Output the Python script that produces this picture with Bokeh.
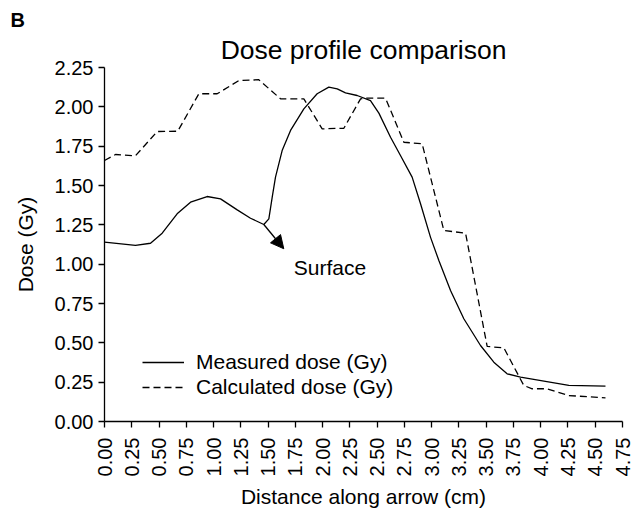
from bokeh.plotting import figure
from bokeh.models import (Range1d, FixedTicker, NumeralTickFormatter, Label, Arrow,
                          NormalHead, Legend, LegendItem, Title)
from bokeh.embed import file_html
from bokeh.resources import INLINE

# ---- data ----
measured_x = [0.00, 0.284, 0.422, 0.529, 0.666, 0.789, 0.941, 1.064, 1.217, 1.339, 1.461,
              1.507, 1.538, 1.568, 1.629, 1.706, 1.828, 1.950, 2.057, 2.134, 2.210, 2.317,
              2.439, 2.516, 2.623, 2.714, 2.821, 2.898, 2.989, 3.066, 3.173, 3.295, 3.448,
              3.570, 3.692, 3.815, 4.258, 4.594]
measured_y = [1.140, 1.119, 1.133, 1.197, 1.320, 1.394, 1.430, 1.415, 1.345, 1.292, 1.252,
              1.288, 1.426, 1.553, 1.722, 1.850, 1.987, 2.083, 2.125, 2.114, 2.089, 2.072,
              2.040, 1.960, 1.807, 1.691, 1.553, 1.384, 1.172, 1.023, 0.833, 0.653, 0.483,
              0.377, 0.303, 0.282, 0.229, 0.225]

calc_x = [0.00, 0.101, 0.284, 0.483, 0.672, 0.865, 1.033, 1.232, 1.415, 1.614, 1.828,
          1.996, 2.195, 2.348, 2.393, 2.577, 2.745, 2.913, 3.112, 3.311, 3.509, 3.662,
          3.845, 3.922, 4.059, 4.258, 4.594]
calc_y = [1.659, 1.697, 1.689, 1.843, 1.845, 2.083, 2.083, 2.167, 2.172, 2.051, 2.051,
          1.860, 1.864, 2.051, 2.055, 2.055, 1.775, 1.765, 1.214, 1.197, 0.477, 0.468,
          0.229, 0.208, 0.208, 0.165, 0.150]

x_ticks = [0.00, 0.25, 0.50, 0.75, 1.00, 1.25, 1.50, 1.75, 2.00, 2.25, 2.50, 2.75,
           3.00, 3.25, 3.50, 3.75, 4.00, 4.25, 4.50, 4.75]
y_ticks = [0.00, 0.25, 0.50, 0.75, 1.00, 1.25, 1.50, 1.75, 2.00, 2.25]

series_labels = ["Measured dose (Gy)", "Calculated dose (Gy)"]
title_text = "Dose profile comparison"
panel_text = "B"
surface_text = "Surface"
arrow_start = (1.461, 1.252)
arrow_end = (1.644, 1.098)

FONT = "Liberation Sans"

p = figure(width=643, height=511, output_backend="svg", toolbar_location=None,
           x_range=Range1d(0, 4.75), y_range=Range1d(0, 2.25),
           min_border_left=104, min_border_right=21, min_border_top=67,
           min_border_bottom=90)
p.outline_line_color = None
p.xgrid.visible = False
p.ygrid.visible = False
p.background_fill_color = "white"
p.border_fill_color = "white"

# axes
for ax in (p.xaxis[0], p.yaxis[0]):
    ax.axis_line_color = "black"
    ax.axis_line_width = 1.3
    ax.major_tick_line_color = "black"
    ax.major_tick_line_width = 1.3
    ax.major_tick_in = 0
    ax.major_tick_out = 6
    ax.minor_tick_line_color = None
    ax.major_label_text_font = FONT
    ax.major_label_text_font_size = "20px"
    ax.major_label_text_color = "black"
    ax.axis_label_text_font = FONT
    ax.axis_label_text_font_size = "21px"
    ax.axis_label_text_font_style = "normal"
    ax.axis_label_text_color = "black"
    ax.formatter = NumeralTickFormatter(format="0.00")

p.xaxis.ticker = FixedTicker(ticks=x_ticks)
p.yaxis.ticker = FixedTicker(ticks=y_ticks)
p.xaxis.major_label_orientation = 3.14159265 / 2
p.xaxis.major_label_standoff = 10
p.xaxis.axis_label = "Distance along arrow (cm)"
p.xaxis.axis_label_standoff = 6
p.yaxis.axis_label = "Dose (Gy)"
p.yaxis.major_label_standoff = 5
p.yaxis.axis_label_standoff = 15

# panel letter (outer) and title (next to the frame)
p.title.text = panel_text
p.title.align = "left"
p.title.offset = -94
p.title.standoff = 0
p.title.text_font = FONT
p.title.text_font_size = "20px"
p.title.text_font_style = "bold"
p.title.text_color = "black"
p.add_layout(Title(text=title_text, align="center", offset=2, standoff=5,
                   text_font=FONT, text_font_size="26.5px", text_font_style="normal",
                   text_color="black"), "above")

# lines
r1 = p.line(measured_x, measured_y, line_color="black", line_width=1.3)
r2 = p.line(calc_x, calc_y, line_color="black", line_width=1.3, line_dash="7 4")

legend = Legend(items=[LegendItem(label=series_labels[0], renderers=[r1]),
                       LegendItem(label=series_labels[1], renderers=[r2])],
                location=(38, 22), border_line_alpha=0, background_fill_alpha=0,
                padding=0, margin=0, spacing=1, glyph_width=42, glyph_height=24,
                label_height=24, label_standoff=12, label_text_font=FONT,
                label_text_font_size="21px", label_text_color="black")
p.add_layout(legend)

# arrow + annotation
p.add_layout(Arrow(end=NormalHead(size=13, fill_color="black", line_color="black"),
                   x_start=arrow_start[0], y_start=arrow_start[1],
                   x_end=arrow_end[0], y_end=arrow_end[1],
                   line_color="black", line_width=1.3))
p.add_layout(Label(x=1.736, y=0.977, text=surface_text, text_font=FONT,
                   text_font_size="21px", text_color="black",
                   text_baseline="alphabetic", text_align="left"))

open("out.html", "w").write(file_html(p, INLINE))
